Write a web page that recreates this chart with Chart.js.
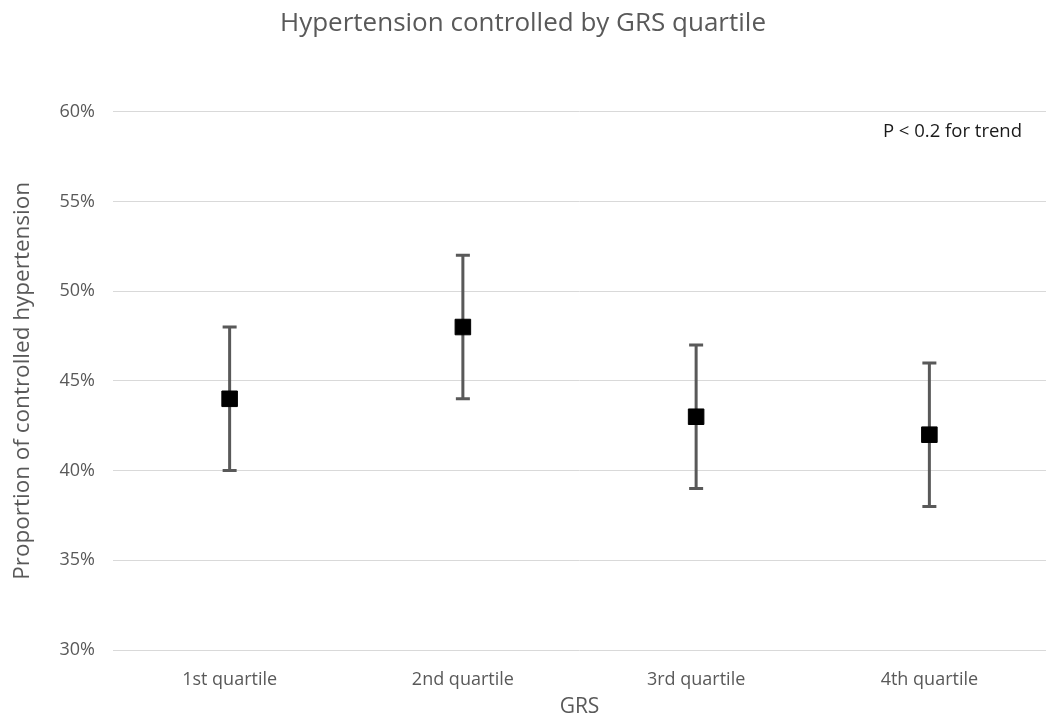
<!DOCTYPE html>
<html>
<head>
<meta charset="utf-8">
<script src="https://cdn.jsdelivr.net/npm/chart.js@4/dist/chart.umd.min.js"></script>
<style>
  html, body { margin: 0; padding: 0; background: #ffffff; }
  #wrap { width: 1046px; height: 722px; }
</style>
</head>
<body>
<div id="wrap"><canvas id="chart" width="1046" height="722"></canvas></div>
<script>
// GRS quartiles and the share of patients with controlled hypertension (%)
const categories = ['1st quartile', '2nd quartile', '3rd quartile', '4th quartile'];
const proportion = [44, 48, 43, 42];
const lowerCI = [40, 44, 39, 38];
const upperCI = [48, 52, 47, 46];
const yTicks = [30, 35, 40, 45, 50, 55, 60];
const trendNote = 'P < 0.2 for trend';

const FONT = '"Open Sans", "Noto Sans", sans-serif';
const GREY = '#595959';

// Vertical error bars with caps, positioned through the chart's own scales
const errorBars = {
  id: 'errorBars',
  beforeDatasetsDraw(chart) {
    const { ctx, scales: { x, y } } = chart;
    ctx.save();
    ctx.strokeStyle = GREY;
    ctx.lineWidth = 3;
    ctx.lineCap = 'butt';
    categories.forEach((c, i) => {
      const px = x.getPixelForValue(i);
      const yl = y.getPixelForValue(lowerCI[i]);
      const yu = y.getPixelForValue(upperCI[i]);
      ctx.beginPath();
      ctx.moveTo(px, yl); ctx.lineTo(px, yu);
      ctx.moveTo(px - 7, yu); ctx.lineTo(px + 7, yu);
      ctx.moveTo(px - 7, yl); ctx.lineTo(px + 7, yl);
      ctx.stroke();
    });
    ctx.restore();
  }
};

// Trend test note in the top-right corner of the plot
const noteLabel = {
  id: 'noteLabel',
  afterDraw(chart) {
    const { ctx, chartArea } = chart;
    ctx.save();
    ctx.font = '18.5px ' + FONT;
    ctx.fillStyle = '#1a1a1a';
    ctx.textAlign = 'right';
    ctx.textBaseline = 'middle';
    ctx.fillText(trendNote, chartArea.right - 24, chartArea.top + 20);
    ctx.restore();
  }
};

new Chart(document.getElementById('chart'), {
  type: 'line',
  data: {
    labels: categories,
    datasets: [{
      label: 'Controlled hypertension',
      data: proportion,
      showLine: false,
      pointStyle: 'rect',
      pointRadius: 11,
      pointHoverRadius: 11,
      pointBackgroundColor: '#000000',
      pointBorderColor: '#000000',
      pointBorderWidth: 1
    }]
  },
  options: {
    responsive: false,
    animation: false,
    layout: { autoPadding: false, padding: { top: 0, right: 0, bottom: 0, left: 0 } },
    plugins: {
      legend: { display: false },
      tooltip: { enabled: false },
      title: {
        display: true,
        text: 'Hypertension controlled by GRS quartile',
        color: GREY,
        font: { family: FONT, size: 26, weight: 'normal' },
        padding: { top: 8, bottom: 72.5 }
      }
    },
    scales: {
      x: {
        type: 'category',
        offset: true,
        grid: { display: false, drawTicks: false },
        border: { display: false },
        ticks: { color: GREY, font: { family: FONT, size: 18 }, padding: 19 },
        title: {
          display: true, text: 'GRS', color: GREY,
          font: { family: FONT, size: 21 }, padding: { top: 2, bottom: 2 }
        },
        afterFit(scale) {
          scale.height = 72;
          scale.paddingLeft = 0;
          scale.paddingRight = 0;
        }
      },
      y: {
        min: 30, max: 60,
        afterBuildTicks(scale) { scale.ticks = yTicks.map(v => ({ value: v })); },
        grid: { color: '#d9d9d9', lineWidth: 1, drawTicks: false },
        border: { display: false },
        ticks: {
          color: GREY, font: { family: FONT, size: 18 }, padding: 18,
          callback: v => v + '%'
        },
        title: {
          display: true, text: 'Proportion of controlled hypertension', color: GREY,
          font: { family: FONT, size: 22.5 }, padding: { top: 9, bottom: 4 }
        },
        afterFit(scale) { scale.width = 113; }
      }
    }
  },
  plugins: [errorBars, noteLabel]
});
</script>
</body>
</html>
